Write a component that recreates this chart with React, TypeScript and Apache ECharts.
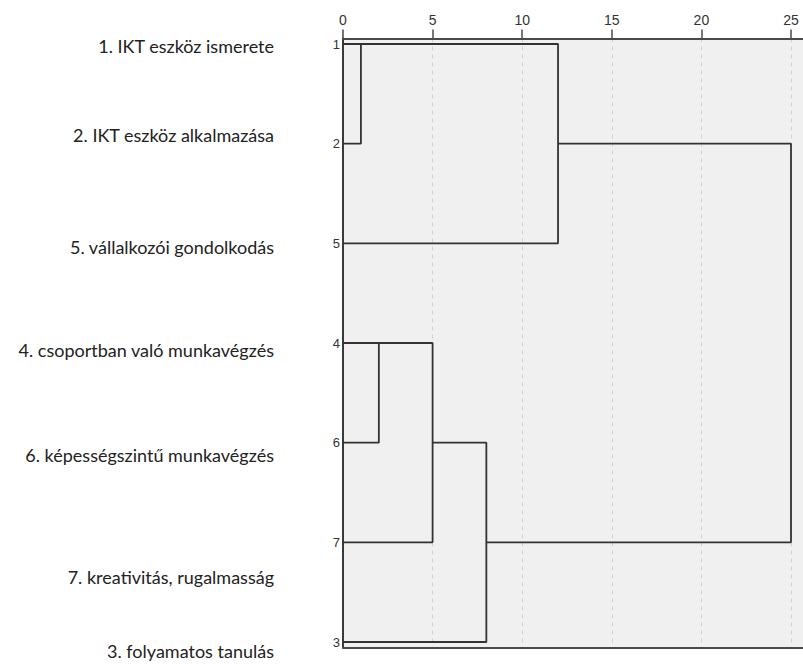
import React, { useEffect, useRef } from "react";
import * as echarts from "echarts";

// Leaves in dendrogram order (top to bottom)
const leafIds = ["1", "2", "5", "4", "6", "7", "3"];
const variableNames = [
  "1. IKT eszköz ismerete",
  "2. IKT eszköz alkalmazása",
  "5. vállalkozói gondolkodás",
  "4. csoportban való munkavégzés",
  "6. képességszintű munkavégzés",
  "7. kreativitás, rugalmasság",
  "3. folyamatos tanulás",
];
// Merge steps: children (L = leaf row, M = earlier merge), rescaled distance, row where the merged cluster line continues
const mergeLeft = ["L0", "M0", "L3", "M2", "M3", "M1"];
const mergeRight = ["L1", "L2", "L4", "L5", "L6", "M4"];
const mergeDistance = [1, 12, 2, 5, 8, 25];
const mergeOutRow = [0, 1, 3, 4, 5, 3];
const xTicks = [0, 5, 10, 15, 20, 25];

// Layout (pixels) of the left-hand name labels
const nameLabelX = 274;
const nameLabelY = [46, 135, 247, 350, 455, 577, 651];

function nodePos(ref: string): [number, number] {
  const idx = parseInt(ref.slice(1), 10);
  if (ref[0] === "L") return [0, idx];
  return [mergeDistance[idx], mergeOutRow[idx]];
}

export default function App() {
  const ref = useRef<HTMLDivElement>(null);
  useEffect(() => {
    if (!ref.current) return;
    const chart = echarts.init(ref.current, undefined, { renderer: "svg" });
    const xMax = 25.67;
    const lineColor = "#333333";
    const series = mergeDistance.map((d, i) => {
      const a = nodePos(mergeLeft[i]);
      const b = nodePos(mergeRight[i]);
      return {
        type: "line",
        xAxisIndex: 2,
        yAxisIndex: 1,
        symbol: "none",
        silent: true,
        clip: false,
        lineStyle: { color: lineColor, width: 1.8 },
        data: [
          [a[0], a[1]],
          [d, a[1]],
          [d, b[1]],
          [b[0], b[1]],
        ],
      };
    });
    chart.setOption({
      animation: false,
      backgroundColor: "#ffffff",
      grid: [
        {
          left: 343,
          right: 0,
          top: 38.5,
          bottom: 16.5,
          show: true,
          backgroundColor: "#f0f0f0",
          borderWidth: 0,
        },
        { left: 343, right: 0, top: 44, bottom: 22 },
      ],
      xAxis: [
        {
          type: "value",
          gridIndex: 0,
          position: "top",
          min: 0,
          max: xMax,
          interval: 5,
          axisLine: { show: true, onZero: false, lineStyle: { color: "#4a4a4a", width: 2 } },
          axisTick: {
            show: true,
            length: 9,
            customValues: xTicks,
            lineStyle: { color: "#4a4a4a", width: 1.5 },
          },
          axisLabel: {
            show: true,
            margin: 12,
            color: "#333",
            fontSize: 14,
            fontFamily: "Liberation Sans",
            customValues: xTicks,
            formatter: (v: number) => String(v),
          },
          splitLine: {
            show: true,
            lineStyle: { color: "#d2d2d2", width: 1, type: [4, 4] },
          },
        },
        {
          type: "value",
          gridIndex: 0,
          position: "bottom",
          min: 0,
          max: xMax,
          axisLine: { show: true, onZero: false, lineStyle: { color: "#4a4a4a", width: 2 } },
          axisTick: { show: false },
          axisLabel: { show: false },
          splitLine: { show: false },
        },
        {
          type: "value",
          gridIndex: 1,
          min: 0,
          max: xMax,
          show: false,
        },
      ],
      yAxis: [
        {
          type: "value",
          gridIndex: 0,
          min: 0,
          max: 1,
          axisLine: { show: true, onZero: false, lineStyle: { color: "#3a3a3a", width: 2 } },
          axisTick: { show: false },
          axisLabel: { show: false },
          splitLine: { show: false },
        },
        {
          type: "value",
          gridIndex: 1,
          inverse: true,
          min: 0,
          max: leafIds.length - 1,
          interval: 1,
          axisLine: { show: false },
          axisTick: { show: false },
          splitLine: { show: false },
          axisLabel: {
            show: true,
            margin: 3,
            color: "#333",
            fontSize: 13,
            fontFamily: "Liberation Sans",
            formatter: (v: number) => leafIds[v] ?? "",
          },
        },
      ],
      graphic: variableNames.map((name, i) => ({
        type: "text",
        x: nameLabelX,
        y: nameLabelY[i],
        style: {
          text: name,
          align: "right",
          verticalAlign: "middle",
          fontFamily: "Lato",
          fontSize: 18,
          fill: "#222",
        },
      })),
      series,
    });
    return () => chart.dispose();
  }, []);
  return (
    <div
      ref={ref}
      style={{ position: "fixed", left: 0, top: 0, width: 803, height: 664 }}
    />
  );
}
